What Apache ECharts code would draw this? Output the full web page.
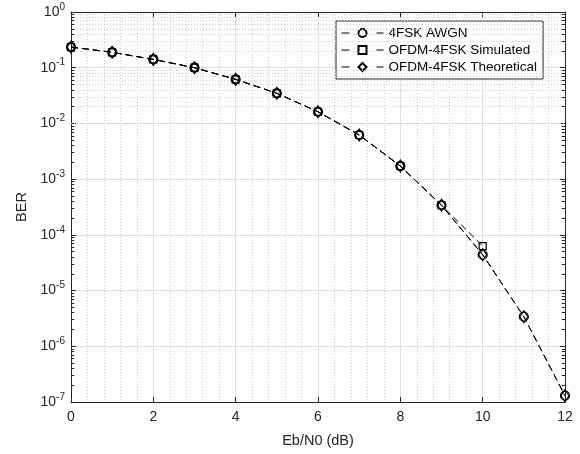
<!DOCTYPE html>
<html><head><meta charset="utf-8">
<script src="https://cdn.jsdelivr.net/npm/echarts@6/dist/echarts.min.js"></script>
<style>html,body{margin:0;padding:0;background:#fff}#c{width:580px;height:454px}</style>
</head><body><div id="c"></div>
<script>
var ebn0 = [0,1,2,3,4,5,6,7,8,9,10,11,12];
var awgnBER = [0.235,0.189,0.141,0.100,0.0618,0.0347,0.0162,0.0062,0.00172,0.00034,4.4e-5,3.4e-6,1.3e-7];
var simEbn0 = [0,1,2,3,4,5,6,7,8,9,10];
var simBER = [0.235,0.189,0.141,0.100,0.0618,0.0347,0.0162,0.0062,0.00172,0.00034,6.3e-5];
var theoBER = [0.235,0.189,0.141,0.100,0.0618,0.0347,0.0162,0.0062,0.00172,0.00034,4.4e-5,3.4e-6,1.3e-7];
var xTicks = [0,2,4,6,8,10,12];
var yDecades = [-7,-6,-5,-4,-3,-2,-1,0];

var FONT = 'Liberation Sans, Arial, Helvetica, sans-serif';
var TXT = '#262626';
var dash = [7,4];

function pairs(xs, ys){ return xs.map(function(x,i){ return [x, ys[i]]; }); }

var minorGrid = [], minorTicks = [];
for (var k = yDecades[0]; k < 0; k++) {
  for (var m = 2; m <= 9; m++) {
    var v = m * Math.pow(10, k);
    minorGrid.push({yAxis: v});
    minorTicks.push([{coord:[0, v]},{coord:[0.08, v]}]);
    minorTicks.push([{coord:[11.92, v]},{coord:[12, v]}]);
  }
}

function mk(name, xs, ys, symbol, size) {
  return {
    name: name, type: 'line', data: pairs(xs, ys),
    symbol: symbol, symbolSize: size, showAllSymbol: true,
    lineStyle: {color: '#000', width: 1, type: dash},
    itemStyle: {color: 'rgba(0,0,0,0)', borderColor: '#000', borderWidth: 1.2},
    z: 5
  };
}

var series = [
  {
    type: 'line', data: [], silent: true, z: 1,
    markLine: {silent: true, symbol: 'none', label: {show: false},
      lineStyle: {color: '#cfcfcf', type: [1,2], width: 1}, data: minorGrid, animation: false}
  },
  {
    type: 'line', data: [], silent: true, z: 6,
    markLine: {silent: true, symbol: 'none', label: {show: false},
      lineStyle: {color: '#262626', type: 'solid', width: 1}, data: minorTicks, animation: false}
  },
  mk('4FSK AWGN', ebn0, awgnBER, 'circle', 9),
  mk('OFDM-4FSK Simulated', simEbn0, simBER, 'rect', 7),
  mk('OFDM-4FSK Theoretical', ebn0, theoBER, 'diamond', [8, 12])
];

var chart = echarts.init(document.getElementById('c'), null, {renderer: 'canvas'});
chart.setOption({
  animation: false,
  backgroundColor: '#fff',
  textStyle: {fontFamily: FONT},
  grid: {left: 71, right: 15, top: 12, bottom: 52},
  legend: {
    orient: 'vertical', left: 336, top: 21,
    data: ['4FSK AWGN','OFDM-4FSK Simulated','OFDM-4FSK Theoretical'],
    backgroundColor: '#fff', borderColor: '#262626', borderWidth: 1,
    padding: [5, 6, 5, 5], itemGap: 3, itemWidth: 42, itemHeight: 10,
    lineStyle: {type: [8, 27], color: '#000', width: 1},
    textStyle: {fontFamily: FONT, fontSize: 13.5, color: '#000'}
  },
  xAxis: [{
    type: 'value', min: 0, max: 12, interval: 2,
    name: 'Eb/N0 (dB)', nameLocation: 'middle', nameGap: 31,
    nameTextStyle: {fontFamily: FONT, fontSize: 14.5, color: TXT},
    axisLine: {show: true, onZero: false, lineStyle: {color: TXT, width: 1}},
    axisTick: {show: true, inside: true, length: 5, lineStyle: {color: TXT}},
    minorTick: {show: false, splitNumber: 5},
    axisLabel: {fontFamily: FONT, fontSize: 14, color: TXT, margin: 8},
    splitLine: {show: true, lineStyle: {color: '#e0e0e0', width: 1}},
    minorSplitLine: {show: true, lineStyle: {color: '#cfcfcf', type: [1,2], width: 1}}
  }, {
    type: 'value', min: 0, max: 12, interval: 2, position: 'top',
    axisLine: {show: true, onZero: false, lineStyle: {color: TXT, width: 1}},
    axisTick: {show: true, inside: true, length: 5, lineStyle: {color: TXT}},
    axisLabel: {show: false}, splitLine: {show: false}
  }],
  yAxis: [{
    type: 'log', logBase: 10, min: 1e-7, max: 1, interval: 1,
    name: 'BER', nameLocation: 'middle', nameGap: 42, nameRotate: 90,
    nameTextStyle: {fontFamily: FONT, fontSize: 14.5, color: TXT},
    axisLine: {show: true, onZero: false, lineStyle: {color: TXT, width: 1}},
    axisTick: {show: true, inside: true, length: 5, lineStyle: {color: TXT}},
    axisLabel: {
      margin: 6,
      formatter: function (v) { var e = Math.round(Math.log10(v)); return '{b|10}{s|' + e + '}'; },
      rich: {
        b: {fontFamily: FONT, fontSize: 14, color: TXT},
        s: {fontFamily: FONT, fontSize: 10, color: TXT, padding: [0,0,10,0]}
      }
    },
    splitLine: {show: true, lineStyle: {color: '#e0e0e0', width: 1}}
  }, {
    type: 'log', logBase: 10, min: 1e-7, max: 1, interval: 1, position: 'right',
    axisLine: {show: true, onZero: false, lineStyle: {color: TXT, width: 1}},
    axisTick: {show: true, inside: true, length: 5, lineStyle: {color: TXT}},
    axisLabel: {show: false}, splitLine: {show: false}
  }],
  series: series
});
</script></body></html>
